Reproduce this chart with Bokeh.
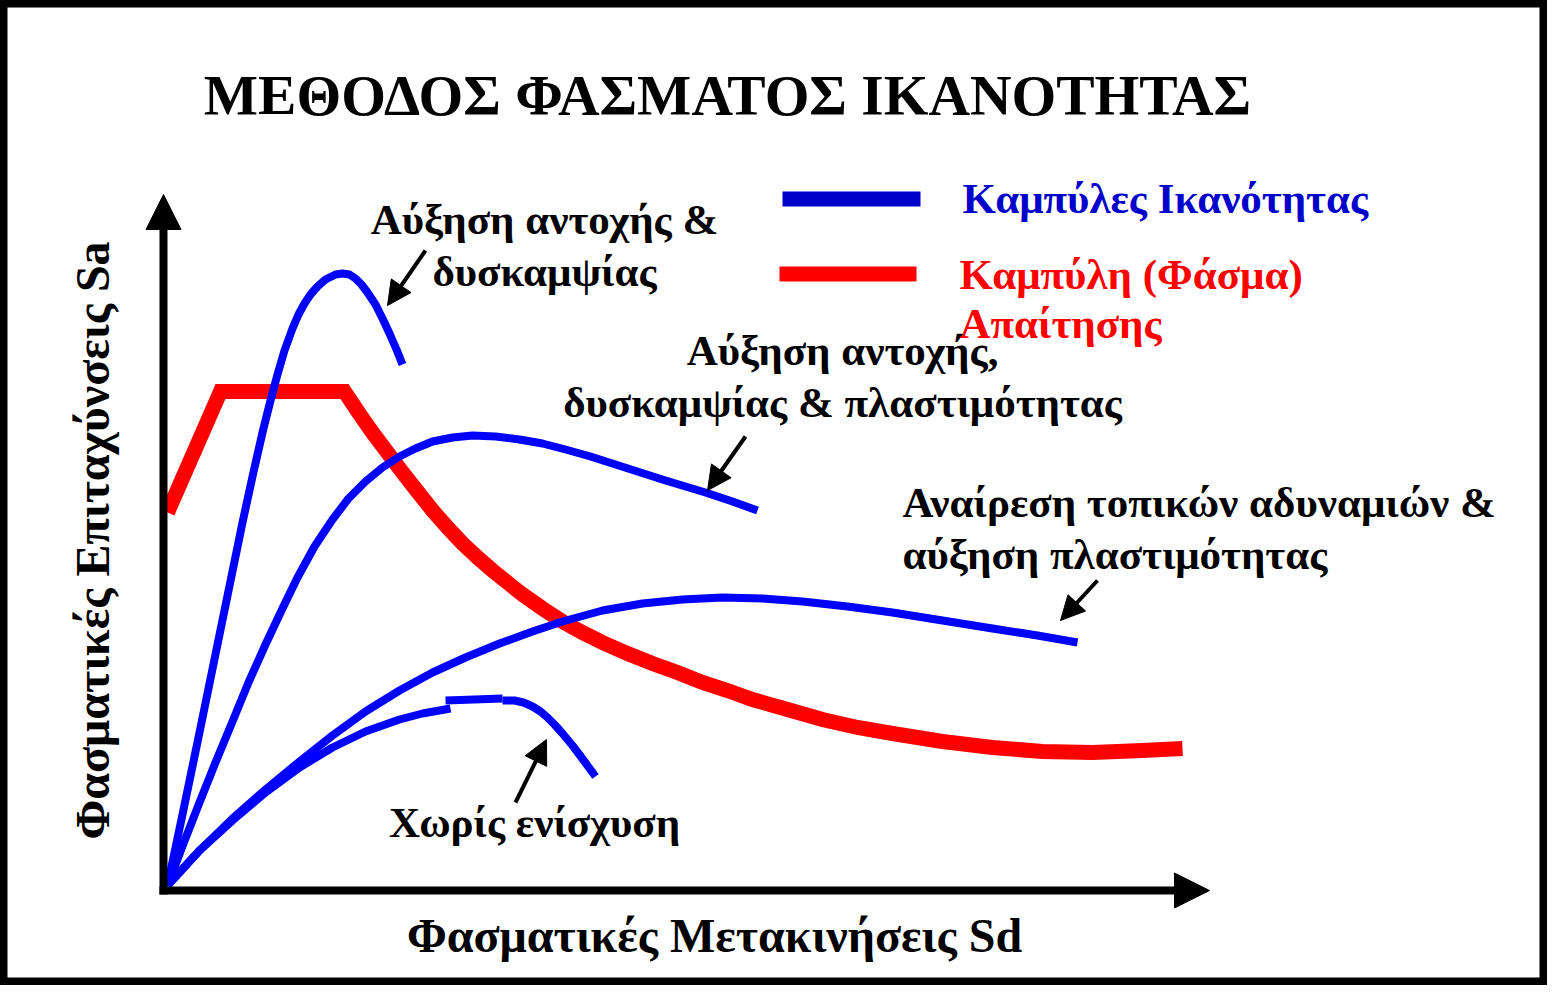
import math
from bokeh.plotting import figure
from bokeh.models import Range1d, Arrow, NormalHead, ColumnDataSource
from bokeh.core.properties import value
from bokeh.embed import file_html
from bokeh.resources import INLINE

# ---- schematic data (Sd, Sa in arbitrary units) ----
# capacity curve: strength & stiffness increase
c1_sd = [0.04, 0.19, 0.36, 0.54, 0.79, 0.89, 0.99, 1.07, 1.14, 1.21, 1.29, 1.35, 1.41, 1.47,
         1.54, 1.62, 1.72, 1.79, 1.86, 1.92, 1.98, 2.04, 2.12, 2.19, 2.26, 2.33, 2.39]
c1_sa = [0.05, 0.76, 1.58, 2.46, 3.68, 4.14, 4.58, 4.90, 5.16, 5.40, 5.62, 5.76, 5.87, 5.96,
         6.04, 6.11, 6.16, 6.17, 6.16, 6.12, 6.06, 5.98, 5.86, 5.72, 5.57, 5.41, 5.26]
# capacity curve: strength, stiffness & ductility increase
c2_sd = [0.04, 0.20, 0.36, 0.52, 0.69, 0.85, 1.02, 1.18, 1.34, 1.51, 1.69, 1.85, 2.02, 2.19,
         2.36, 2.52, 2.69, 2.89, 3.09, 3.32, 3.56, 3.79, 4.02, 4.27, 4.52, 4.77, 5.02, 5.22,
         5.42, 5.69, 5.94]
c2_sa = [0.05, 0.47, 0.88, 1.28, 1.69, 2.08, 2.46, 2.80, 3.13, 3.44, 3.71, 3.92, 4.09, 4.23,
         4.34, 4.42, 4.49, 4.53, 4.55, 4.54, 4.51, 4.47, 4.41, 4.34, 4.26, 4.18, 4.10, 4.04,
         3.98, 3.89, 3.80]
# capacity curve: removal of local weaknesses & ductility increase
c3_sd = [0.04, 0.36, 0.69, 1.02, 1.36, 1.69, 2.02, 2.36, 2.69, 3.02, 3.36, 3.69, 3.99, 4.39,
         4.79, 5.19, 5.59, 5.99, 6.39, 6.84, 7.29, 7.79, 8.29, 8.74, 9.14]
c3_sa = [0.05, 0.40, 0.72, 1.01, 1.29, 1.55, 1.79, 2.00, 2.18, 2.33, 2.47, 2.59, 2.69, 2.80,
         2.87, 2.91, 2.93, 2.92, 2.89, 2.84, 2.78, 2.70, 2.62, 2.55, 2.48]
# capacity curve: no retrofit (drawn in three pieces)
c4a_sd = [0.04, 0.36, 0.69, 1.02, 1.36, 1.69, 2.02, 2.36, 2.59, 2.87]
c4a_sa = [0.05, 0.40, 0.70, 0.98, 1.23, 1.43, 1.59, 1.71, 1.77, 1.82]
c4b_sd = [2.82, 3.39]
c4b_sa = [1.90, 1.92]
c4c_sd = [3.39, 3.51, 3.60, 3.69, 3.77, 3.84, 3.91, 3.99, 4.09, 4.21, 4.32]
c4c_sa = [1.90, 1.90, 1.88, 1.84, 1.79, 1.73, 1.66, 1.57, 1.45, 1.29, 1.14]
# demand spectrum
dem_sd = [0.04, 0.57, 1.81, 1.95, 2.09, 2.24, 2.39, 2.54, 2.69, 2.84, 2.99, 3.14, 3.29, 3.44,
          3.59, 3.79, 3.99, 4.19, 4.39, 4.64, 4.89, 5.14, 5.39, 5.64, 5.89, 6.24, 6.59, 6.94,
          7.29, 7.79, 8.29, 8.79, 9.29, 9.79, 10.19]
dem_sa = [3.78, 4.99, 4.99, 4.78, 4.58, 4.38, 4.18, 3.99, 3.80, 3.63, 3.47, 3.33, 3.20, 3.08,
          2.96, 2.82, 2.69, 2.58, 2.48, 2.37, 2.27, 2.18, 2.08, 2.00, 1.91, 1.81, 1.71, 1.63,
          1.57, 1.49, 1.43, 1.39, 1.38, 1.40, 1.42]

# axis extents
SD_MAX = 10.46
SA_MAX = 6.96

title_text = "ΜΕΘΟΔΟΣ ΦΑΣΜΑΤΟΣ ΙΚΑΝΟΤΗΤΑΣ"
xlabel_text = "Φασματικές Μετακινήσεις Sd"
ylabel_text = "Φασματικές Επιταχύνσεις Sa"
legend_labels = ["Καμπύλες Ικανότητας", "Καμπύλη (Φάσμα)", "Απαίτησης"]
notes = ["Αύξηση αντοχής &", "δυσκαμψίας",
         "Αύξηση αντοχής,", "δυσκαμψίας & πλαστιμότητας",
         "Αναίρεση τοπικών αδυναμιών &", "αύξηση πλαστιμότητας",
         "Χωρίς ενίσχυση"]

BLUE = "#0000FF"
LEG_BLUE = "#0000CC"
RED = "#FF0000"
FONT = value("Liberation Serif")

W, H = 1547, 985
p = figure(width=W, height=H, output_backend="svg", toolbar_location=None,
           x_range=Range1d(-1.63, -1.63 + W / 100), y_range=Range1d(8.90 - H / 100, 8.90),
           x_axis_location=None, y_axis_location=None, min_border=0,
           background_fill_color="white", border_fill_color="white")
p.grid.visible = False
p.outline_line_color = "black"
p.outline_line_width = 14

# axes as arrows
p.add_layout(Arrow(x_start=-0.04, y_start=0, x_end=SD_MAX, y_end=0, line_width=8,
                   line_color="black",
                   end=NormalHead(size=35, fill_color="black", line_color="black", line_width=1)))
p.add_layout(Arrow(x_start=0, y_start=-0.04, x_end=0, y_end=SA_MAX, line_width=8,
                   line_color="black",
                   end=NormalHead(size=35, fill_color="black", line_color="black", line_width=1)))

# demand spectrum
p.line(dem_sd, dem_sa, line_color=RED, line_width=15, line_join="miter")

# capacity curves
for xs, ys in [(c1_sd, c1_sa), (c2_sd, c2_sa), (c3_sd, c3_sa),
               (c4a_sd, c4a_sa), (c4b_sd, c4b_sa), (c4c_sd, c4c_sa)]:
    p.line(xs, ys, line_color=BLUE, line_width=8, line_join="round")

# legend samples
p.segment(x0=[6.19, 6.16], y0=[6.915, 6.165], x1=[7.57, 7.53], y1=[6.915, 6.165],
          line_color=[LEG_BLUE, RED], line_width=15)

# pointer arrows
ptr = [((2.62, 6.40), (2.24, 5.85)), ((5.82, 4.54), (5.44, 4.00)),
       ((9.34, 3.10), (8.97, 2.70)), ((3.52, 0.88), (3.83, 1.51))]
for (xs, ys), (xe, ye) in ptr:
    p.add_layout(Arrow(x_start=xs, y_start=ys, x_end=xe, y_end=ye, line_width=4,
                       line_color="black",
                       end=NormalHead(size=24, fill_color="black", line_color="black",
                                      line_width=1)))

# texts
def add_text(xs, ys, txt, size, color="black", align="center", angle=0.0):
    src = ColumnDataSource(dict(x=xs, y=ys, text=txt))
    p.text(x="x", y="y", text="text", source=src, text_font=FONT, text_font_style="bold",
           text_font_size=size, text_color=color, text_align=align,
           text_baseline="alphabetic", angle=angle)

add_text([5.64], [7.95], [title_text], "57.5px")
add_text([5.51], [-0.45], [xlabel_text], "48px")
add_text([-0.71], [3.50], [ylabel_text], "48px", angle=math.pi / 2)
add_text([3.81, 3.81, 6.79, 6.79, 3.71], [6.71, 6.19, 5.40, 4.88, 0.68],
         [notes[0], notes[1], notes[2], notes[3], notes[6]], "43px")
add_text([7.39, 7.39], [3.88, 3.36], [notes[4], notes[5]], "43px", align="left")
add_text([7.99], [6.92], [legend_labels[0]], "43px", color=LEG_BLUE, align="left")
add_text([7.96, 7.96], [6.16, 5.67], [legend_labels[1], legend_labels[2]], "43px",
         color=RED, align="left")

open("out.html", "w").write(file_html(p, INLINE))
